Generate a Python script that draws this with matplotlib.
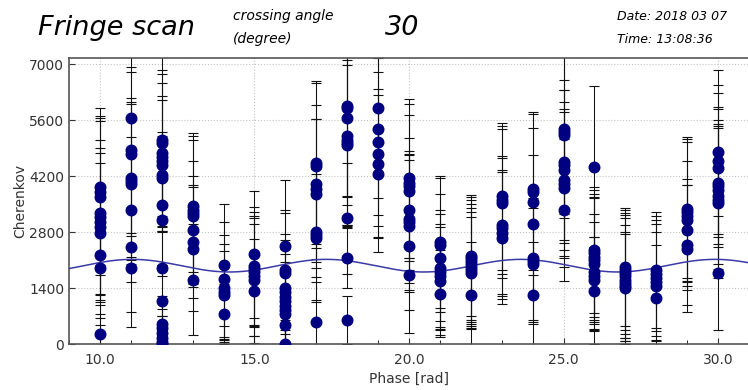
import numpy as np
import matplotlib
matplotlib.use('Agg')
import matplotlib.pyplot as plt
from matplotlib.ticker import MultipleLocator, FormatStrFormatter

# phase positions of the scan (rad)
phases = [10, 11, 12, 13, 14, 15, 16, 17, 18, 19, 20,
          21, 22, 23, 24, 25, 26, 27, 28, 29, 30]

# cherenkov counts at each phase
cherenkov = [
    [3940, 3815, 3690, 3290, 3190, 3065, 2940, 2790, 2230, 1900, 260],
    [5670, 4860, 4760, 4170, 4080, 4010, 3370, 2440, 1915],
    [5100, 5030, 4780, 4690, 4580, 4480, 4230, 4170, 3480, 3110, 1910, 1080,
     520, 400, 280, 160, 50, 0],
    [3450, 3370, 3280, 3200, 2860, 2570, 2390, 1620],
    [1980, 1630, 1400, 1320, 1230, 760],
    [2250, 1960, 1880, 1800, 1720, 1610, 1340],
    [2470, 1860, 1780, 1400, 1300, 1190, 1080, 970, 860, 750, 480, 0],
    [4540, 4470, 4020, 3880, 3770, 2810, 2740, 2660, 570],
    [5960, 5900, 5650, 5210, 5120, 5040, 4980, 3150, 2150, 610],
    [5900, 5390, 5070, 4750, 4520, 4270],
    [4150, 4045, 3950, 3825, 3350, 3135, 3050, 2960, 2470, 1730],
    [2570, 2480, 2170, 1900, 1820, 1700, 1590, 1270],
    [2220, 2150, 2080, 2010, 1940, 1860, 1790, 1240],
    [3700, 3610, 3530, 2980, 2900, 2780, 2660],
    [3890, 3815, 3565, 3000, 2150, 2080, 2020, 1240],
    [5380, 5300, 5230, 4570, 4480, 4360, 4110, 4020, 3910, 3360],
    [4440, 2360, 2280, 2190, 2100, 2020, 1800, 1720, 1600, 1340],
    [1940, 1860, 1780, 1700, 1620, 1540, 1460, 1400],
    [1860, 1770, 1660, 1550, 1450, 1150],
    [3380, 3300, 3210, 3120, 2850, 2480, 2390],
    [4810, 4590, 4400, 4030, 3950, 3860, 3700, 3610, 3530, 1780],
]

cherenkov_err = [
    [1960, 1900, 1960, 2300, 1920, 1840, 1840, 1740, 1750, 1250, 500],
    [1700, 2080, 2060, 1980, 1980, 1990, 1820, 1625, 1475],
    [2150, 1830, 1980, 1850, 1640, 1640, 1090, 1050, 1500, 1400, 1200, 900,
     700, 650, 600, 550, 500, 450],
    [1840, 1840, 1840, 1390, 1355, 1410, 1550, 1390],
    [1520, 1435, 1330, 1200, 1100, 760],
    [1580, 1480, 1420, 1365, 1500, 1400, 1300],
    [1640, 1500, 1510, 1370, 1300, 1200, 1180, 1100, 1050, 1000, 800, 600],
    [2040, 2055, 1960, 1750, 1860, 1120, 1640, 1590, 1000],
    [2250, 2210, 2170, 2230, 2180, 2070, 2000, 1380, 750, 610],
    [2235, 2160, 2105, 2060, 1870, 1955],
    [1990, 1965, 1780, 1340, 1495, 1595, 1700, 1660, 1610, 1440],
    [1650, 1670, 1580, 1460, 1450, 1320, 1350, 1080],
    [1520, 1530, 1520, 1510, 1480, 1460, 1400, 1320],
    [1830, 1860, 1860, 1720, 1760, 1580, 1650],
    [1920, 1955, 1835, 1730, 1600, 1570, 1400, 1320],
    [2000, 2030, 2080, 2040, 1880, 2000, 1950, 1800, 1980, 1780],
    [2010, 1580, 1590, 1580, 1550, 1670, 1470, 1345, 1090, 1340],
    [1470, 1490, 1510, 1530, 1530, 1450, 1310, 1400],
    [1460, 1430, 1440, 1470, 1350, 1330],
    [1800, 1830, 1850, 1460, 1290, 1500, 1590],
    [2050, 1900, 1880, 1590, 1930, 2080, 1820, 1855, 1870, 1420],
]

# sine fit parameters
fit_offset = 1967
fit_amp = 158
fit_peak = 11.05

fig = plt.figure(figsize=(7.48, 3.9), dpi=100)
ax = fig.add_axes([69/748, 45.7/390, 680/748, 286.6/390])

for ph, vals, errs in zip(phases, cherenkov, cherenkov_err):
    xs = [ph] * len(vals)
    ax.errorbar(xs, vals, yerr=errs, fmt='none', ecolor='#111111',
                elinewidth=0.75, capsize=3.4, capthick=0.8, zorder=2)

xfit = np.linspace(9, 31, 400)
ax.plot(xfit, fit_offset + fit_amp*np.cos(xfit - fit_peak),
        color='#3a3aa8', lw=1.1, zorder=3)

for ph, vals in zip(phases, cherenkov):
    ax.plot([ph]*len(vals), vals, 'o', color='#000080', ms=7.6,
            mec='#000080', zorder=4)

ax.set_xlim(9, 31)
ax.set_ylim(0, 7170)
ax.set_yticks([0, 1400, 2800, 4200, 5600, 7000])
ax.xaxis.set_major_locator(MultipleLocator(5))
ax.xaxis.set_minor_locator(MultipleLocator(1))
ax.xaxis.set_major_formatter(FormatStrFormatter('%.1f'))
ax.tick_params(direction='in', labelsize=10, colors='#333333', length=4)
ax.tick_params(axis='x', which='minor', direction='in', length=3)
ax.tick_params(axis='x', labelcolor='#333333', pad=6)
ax.grid(True, ls=':', color='#c4c4c4', lw=0.8)
ax.set_axisbelow(True)
for s in ax.spines.values():
    s.set_color('#555555')
    s.set_linewidth(1.2)

ax.set_xlabel('Phase [rad]', fontsize=10, color='#333333', labelpad=4)
ax.set_ylabel('Cherenkov', fontsize=10, color='#333333', labelpad=1)

fig.text(38/748, 1 - 35/390, 'Fringe scan', fontsize=19.5, style='italic',
         va='baseline')
fig.text(233/748, 1 - 20/390, 'crossing angle', fontsize=10, style='italic',
         va='baseline')
fig.text(233/748, 1 - 43/390, '(degree)', fontsize=10, style='italic',
         va='baseline')
fig.text(385/748, 1 - 35/390, '30', fontsize=19.5, style='italic',
         va='baseline')
fig.text(617/748, 1 - 20/390, 'Date: 2018 03 07', fontsize=9, style='italic',
         va='baseline')
fig.text(617/748, 1 - 43/390, 'Time: 13:08:36', fontsize=9, style='italic',
         va='baseline')

fig.savefig('out.png', dpi=100)
